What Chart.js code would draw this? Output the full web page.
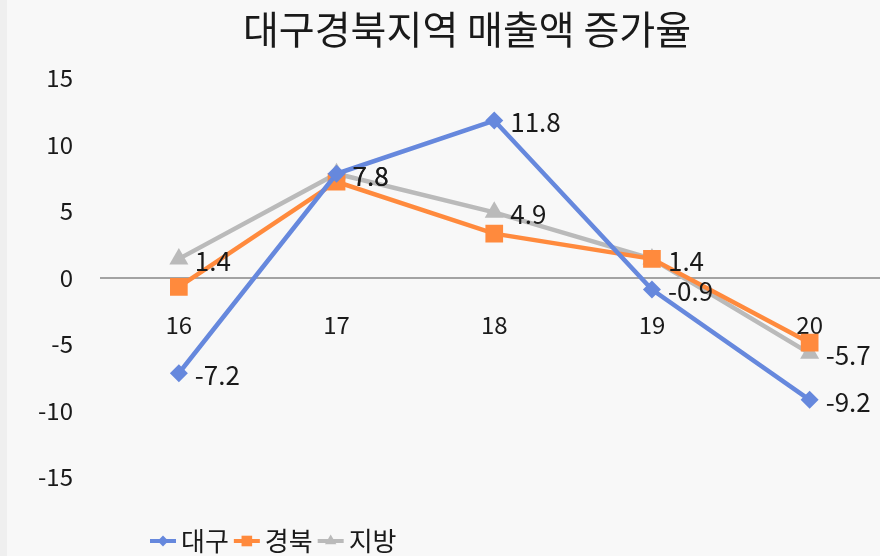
<!DOCTYPE html>
<html>
<head>
    <meta charset="utf-8">
    <title>대구경북지역 매출액 증가율</title>
    <style>
        html, body {
            margin: 0;
            padding: 0;
            overflow: hidden;
            background-color: #f8f8f8;
        }
        body {
            width: 880px;
            height: 556px;
            box-shadow: inset 7px 0 0 #efefef;
        }
        #chart {
            display: block;
        }
    </style>
</head>
<body>
    <canvas id="chart" width="901" height="556"></canvas>

    <script src="https://cdn.jsdelivr.net/npm/chart.js"></script>
    <script>
        // categories (year) and growth rates in %
        const years = ['16', '17', '18', '19', '20'];
        const daegu = [-7.2, 7.8, 11.8, -0.9, -9.2];
        const gyeongbuk = [-0.7, 7.2, 3.3, 1.4, -4.9];
        const jibang = [1.4, 7.8, 4.9, 1.4, -5.7];
        const yTicks = [-15, -10, -5, 0, 5, 10, 15];

        const titleText = '대구경북지역 매출액 증가율';

        // series that get value labels
        const labeled = ['대구', '지방'];

        const FONT = '"Noto Sans CJK KR", "Noto Sans", sans-serif';

        const valueLabels = {
            id: 'valueLabels',
            afterDatasetsDraw(chart) {
                const ctx = chart.ctx;
                ctx.save();
                ctx.font = '26px ' + FONT;
                ctx.fillStyle = '#1a1a1a';
                ctx.textAlign = 'left';
                ctx.textBaseline = 'middle';
                chart.data.datasets.forEach((ds, i) => {
                    if (!labeled.includes(ds.label)) return;
                    chart.getDatasetMeta(i).data.forEach((pt, j) => {
                        ctx.fillText(ds.data[j].toFixed(1), pt.x + 16, pt.y + 2);
                    });
                });
                ctx.restore();
            }
        };

        // title and legend are drawn by hand so they can sit off-centre like the layout needs
        const titleAndLegend = {
            id: 'titleAndLegend',
            afterDraw(chart) {
                const ctx = chart.ctx;
                ctx.save();
                ctx.fillStyle = '#1a1a1a';
                ctx.font = '39px ' + FONT;
                ctx.textAlign = 'center';
                ctx.textBaseline = 'middle';
                ctx.fillText(titleText, 467, 29);

                ctx.font = '26px ' + FONT;
                ctx.textAlign = 'left';
                let x = 150;
                const y = 541;
                chart.data.datasets.forEach(ds => {
                    ctx.strokeStyle = ds.borderColor;
                    ctx.lineWidth = 4;
                    ctx.beginPath();
                    ctx.moveTo(x, y);
                    ctx.lineTo(x + 26, y);
                    ctx.stroke();
                    ctx.fillStyle = ds.borderColor;
                    Chart.helpers.drawPoint(ctx, {
                        pointStyle: ds.pointStyle,
                        radius: ds.pointRadius * 0.6,
                        borderWidth: 0
                    }, x + 13, y);
                    ctx.fillStyle = '#1a1a1a';
                    ctx.fillText(ds.label, x + 31, y);
                    x += 31 + ctx.measureText(ds.label).width + 5;
                });
                ctx.restore();
            }
        };

        new Chart(document.getElementById('chart'), {
            type: 'line',
            data: {
                labels: years,
                datasets: [{
                    label: '대구',
                    data: daegu,
                    borderColor: '#6688dd',
                    backgroundColor: '#6688dd',
                    pointStyle: 'rectRot',
                    pointRadius: 9
                }, {
                    label: '경북',
                    data: gyeongbuk,
                    borderColor: '#ff8a3d',
                    backgroundColor: '#ff8a3d',
                    pointStyle: 'rect',
                    pointRadius: 12.5
                }, {
                    label: '지방',
                    data: jibang,
                    borderColor: '#bababa',
                    backgroundColor: '#bababa',
                    pointStyle: 'triangle',
                    pointRadius: 11
                }]
            },
            options: {
                responsive: false,
                animation: false,
                elements: {
                    line: { borderWidth: 4.5, tension: 0 },
                    point: { borderWidth: 0 }
                },
                layout: {
                    padding: { left: 0, right: 0, top: 78, bottom: 79 }
                },
                plugins: {
                    legend: { display: false },
                    tooltip: { enabled: false },
                    title: { display: false }
                },
                scales: {
                    x: {
                        offset: true,
                        position: { y: 0 },
                        grid: { display: false },
                        border: { display: false },
                        ticks: {
                            color: '#1a1a1a',
                            font: { family: FONT, size: 24 },
                            padding: 25,
                            maxRotation: 0
                        }
                    },
                    y: {
                        min: -15,
                        max: 15,
                        afterBuildTicks(scale) {
                            scale.ticks = yTicks.map(v => ({ value: v }));
                        },
                        afterFit(scale) {
                            scale.width = 100;
                        },
                        border: { display: false },
                        grid: {
                            drawTicks: false,
                            lineWidth: 2,
                            color: c => c.tick && c.tick.value === 0 ? '#a3a3a3' : 'rgba(0,0,0,0)'
                        },
                        ticks: {
                            color: '#1a1a1a',
                            font: { family: FONT, size: 24 },
                            padding: 27
                        }
                    }
                }
            },
            plugins: [valueLabels, titleAndLegend]
        });
    </script>
</body>
</html>
